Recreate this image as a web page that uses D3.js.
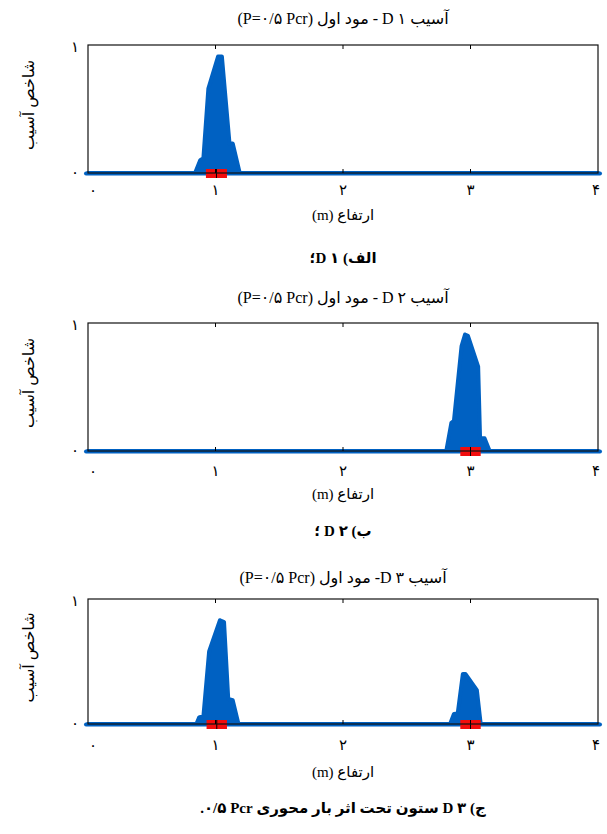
<!DOCTYPE html>
<html>
<head>
<meta charset="utf-8">
<script src="https://cdn.jsdelivr.net/npm/d3@7"></script>
<style>
  body {margin:0; background:#fff;}
  text {font-family:"Liberation Serif","DejaVu Sans",serif; fill:#000;}
</style>
</head>
<body>
<svg id="chart" width="607" height="834"></svg>
<script>
// tick values and their persian labels
var xTicks=[0,1,2,3,4];
var xTickLabels=['۰','۱','۲','۳','۴'];
var yTicks=[0,1];
var yTickLabels=['۰','۱'];

var titles=[
    'آسیب ۱ D - مود اول (\u2066P=۰/۵ Pcr\u2069)',
    'آسیب ۲ D - مود اول (\u2066P=۰/۵ Pcr\u2069)',
    'آسیب ۳ D- مود اول (\u2066P=۰/۵ Pcr\u2069)'
];
var captions=[
    'الف) ۱ D؛',
    'ب) ۲ D ؛',
    'ج) ۳ D ستون تحت اثر بار محوری \u2066۰/۵ Pcr\u2069.'
];
var xTitle='ارتفاع (m)';
var yTitle='شاخص آسیب';

// damage index along the height [m, index]
var damage1=[[0,0],[0.84,0],[0.88,0.10],[0.905,0.115],[0.944,0.66],[1.02,0.91],[1.05,0.91],
    [1.11,0.23],[1.135,0.23],[1.19,0],[4,0]];
var damage2=[[0,0],[2.81,0],[2.85,0.22],[2.87,0.235],[2.93,0.82],[2.957,0.91],[2.98,0.90],
    [3.06,0.66],[3.075,0.10],[3.11,0.10],[3.15,0],[4,0]];
var damage3=[[0,0],[0.85,0],[0.873,0.055],[0.905,0.06],[0.95,0.58],[1.035,0.83],[1.067,0.815],
    [1.10,0.20],[1.135,0.19],[1.18,0],[2.84,0],[2.87,0.08],[2.90,0.085],[2.94,0.40],[2.96,0.40],
    [3.05,0.27],[3.08,0],[4,0]];
// real damaged elements [from, to] in m
var elements1=[[0.925,1.09]];
var elements2=[[2.92,3.08]];
var elements3=[[0.93,1.09],[2.92,3.08]];

var damages=[damage1,damage2,damage3];
var elements=[elements1,elements2,elements3];

// layout of the three panels
var panels=[
    {title:18, top:45, bottom:173, tick:190, xlab:215, cap:258},
    {title:297, top:323, bottom:451, tick:471, xlab:494, cap:531},
    {title:577, top:599, bottom:724, tick:745, xlab:772, cap:808}
];
var left=88, right=598;
var blue='#0061c2', red='#f20d0d';

var svg=d3.select('#chart');
var xscale=d3.scaleLinear().domain([0,4]).range([left,right]);

panels.forEach(function(p,i) {
    var yscale=d3.scaleLinear().domain([0,1]).range([p.bottom,p.top]);
    var g=svg.append('g');
    var cx=(left+right)/2;

    g.append('text').attr('x',cx).attr('y',p.title)
        .attr('direction','rtl').attr('text-anchor','middle')
        .attr('dominant-baseline','central').style('font-size','16px')
        .text(titles[i]);

    // baseline (thick line at zero, a bit wider than the box)
    g.append('line').attr('x1',xscale(0)-2).attr('x2',xscale(4)+2)
        .attr('y1',yscale(0)+0.5).attr('y2',yscale(0)+0.5)
        .attr('stroke',blue).attr('stroke-width',4).attr('stroke-linecap','round');

    // damage curve
    var area=d3.area().x(function(d) {return xscale(d[0]);})
        .y0(yscale(0)).y1(function(d) {return yscale(d[1]);});
    g.append('path').attr('d',area(damages[i]))
        .attr('fill',blue).attr('stroke',blue).attr('stroke-width',4)
        .attr('stroke-linejoin','round').attr('stroke-linecap','round');

    // damaged elements
    elements[i].forEach(function(e) {
        var y0=yscale(0);
        g.append('rect').attr('x',xscale(e[0])).attr('y',y0-4)
            .attr('width',xscale(e[1])-xscale(e[0])).attr('height',9).attr('fill',red);
        var xm=xscale((e[0]+e[1])/2);
        g.append('line').attr('x1',xm).attr('x2',xm).attr('y1',y0-4).attr('y2',y0+5)
            .attr('stroke','#000').attr('stroke-width',1);
    });

    // box and ticks
    g.append('rect').attr('x',left).attr('y',p.top).attr('width',right-left)
        .attr('height',p.bottom-p.top).attr('fill','none').attr('stroke','#111').attr('stroke-width',1.2);
    xTicks.slice(1,4).forEach(function(t) {
        g.append('line').attr('x1',xscale(t)).attr('x2',xscale(t))
            .attr('y1',p.top).attr('y2',p.top+4).attr('stroke','#000');
        g.append('line').attr('x1',xscale(t)).attr('x2',xscale(t))
            .attr('y1',p.bottom).attr('y2',p.bottom-4).attr('stroke','#000');
    });

    xTicks.forEach(function(t,k) {
        g.append('text').attr('x',xscale(t)+(k==0?5:0)+(k==4?-2:0)).attr('y',p.tick)
            .attr('text-anchor','middle').attr('dominant-baseline','central')
            .style('font-size','15px').text(xTickLabels[k]);
    });
    yTicks.forEach(function(t,k) {
        g.append('text').attr('x',left-9).attr('y',yscale(t)+(k==0?-1:2))
            .attr('text-anchor','end').attr('dominant-baseline','central')
            .style('font-size','15px').text(yTickLabels[k]);
    });

    g.append('text').attr('transform','translate(28,'+((p.top+p.bottom)/2-4)+') rotate(-90)')
        .attr('direction','rtl').attr('text-anchor','middle').attr('dominant-baseline','central')
        .style('font-size','16px').text(yTitle);

    g.append('text').attr('x',cx).attr('y',p.xlab)
        .attr('direction','rtl').attr('text-anchor','middle').attr('dominant-baseline','central')
        .style('font-size','15px').text(xTitle);

    g.append('text').attr('x',cx).attr('y',p.cap)
        .attr('direction','rtl').attr('text-anchor','middle').attr('dominant-baseline','central')
        .style('font-size','15px').style('font-weight','bold').text(captions[i]);
});
</script>
</body>
</html>
